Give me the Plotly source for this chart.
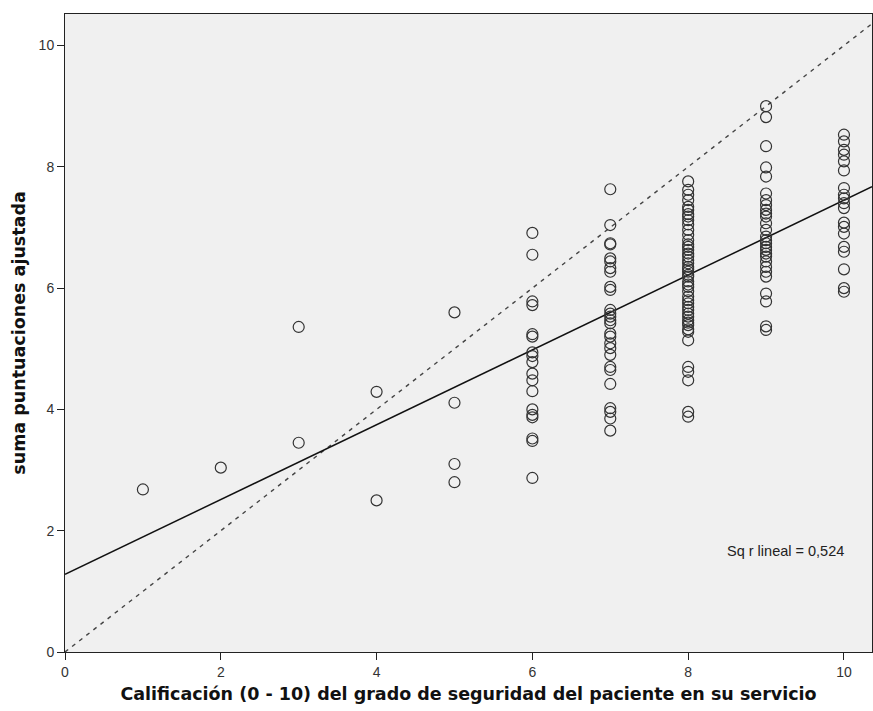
import plotly.graph_objects as go

# ---- data ----
score_1 = [2.68]
score_2 = [3.04]
score_3 = [5.36, 3.45]
score_4 = [4.29, 2.50]
score_5 = [5.60, 4.11, 3.10, 2.80]
score_6 = [6.91, 6.55, 5.78, 5.72, 5.24, 5.20, 4.94, 4.88, 4.78, 4.59, 4.48,
           4.30, 4.00, 3.91, 3.87, 3.52, 3.48, 2.87]
score_7 = [7.63, 7.04, 6.74, 6.72, 6.49, 6.44, 6.33, 6.27, 6.02, 5.97, 5.64,
           5.58, 5.53, 5.47, 5.42, 5.25, 5.20, 5.09, 5.01, 4.90, 4.70, 4.65,
           4.42, 4.02, 3.96, 3.85, 3.65]
score_8 = [7.76, 7.62, 7.54, 7.45, 7.34, 7.29, 7.22, 7.18, 7.12, 7.05, 6.96,
           6.88, 6.79, 6.72, 6.68, 6.63, 6.57, 6.52, 6.46, 6.41, 6.35, 6.31,
           6.27, 6.22, 6.19, 6.11, 6.06, 6.02, 5.95, 5.86, 5.80, 5.75, 5.69,
           5.64, 5.58, 5.53, 5.47, 5.43, 5.39, 5.32, 5.28, 5.14, 4.70, 4.62,
           4.48, 3.96, 3.88]
score_9 = [9.00, 8.82, 8.34, 7.99, 7.84, 7.56, 7.45, 7.37, 7.29, 7.23, 7.18,
           7.07, 6.96, 6.85, 6.79, 6.74, 6.68, 6.63, 6.57, 6.52, 6.44, 6.35,
           6.27, 6.19, 5.91, 5.78, 5.37, 5.31]
score_10 = [8.53, 8.42, 8.28, 8.20, 8.09, 7.94, 7.65, 7.54, 7.48, 7.40, 7.32,
            7.08, 7.01, 6.90, 6.68, 6.60, 6.31, 6.00, 5.94]

ratings = [1, 2, 3, 4, 5, 6, 7, 8, 9, 10]
columns = [score_1, score_2, score_3, score_4, score_5,
           score_6, score_7, score_8, score_9, score_10]

fit_intercept = 1.28
fit_slope = 0.617
r2_label = "Sq r lineal = 0,524"

x_range = [0, 10.36]
y_range = [0, 10.52]
x_ticks = [0, 2, 4, 6, 8, 10]
y_ticks = [0, 2, 4, 6, 8, 10]

xs, ys = [], []
for r, col in zip(ratings, columns):
    xs += [r] * len(col)
    ys += col

fig = go.Figure()

# reference line y = x (dashed)
fig.add_trace(go.Scatter(
    x=[x_range[0], x_range[1]], y=[x_range[0], x_range[1]],
    mode="lines", line=dict(color="#444444", width=1.4, dash="4px,5px"),
    showlegend=False, hoverinfo="skip"))

# fit line
fig.add_trace(go.Scatter(
    x=[x_range[0], x_range[1]],
    y=[fit_intercept + fit_slope * x_range[0], fit_intercept + fit_slope * x_range[1]],
    mode="lines", line=dict(color="#111111", width=1.5),
    showlegend=False, hoverinfo="skip"))

fig.add_trace(go.Scatter(
    x=xs, y=ys, mode="markers",
    marker=dict(symbol="circle-open", size=11, color="#333333",
                line=dict(width=1.2, color="#333333")),
    showlegend=False))

fig.add_annotation(x=10.02, y=1.66, xref="x", yref="y", text=r2_label,
                   showarrow=False, xanchor="right", yanchor="middle",
                   font=dict(family="Liberation Sans, Arial", size=14.5, color="#222222"))

axis_common = dict(showline=True, linecolor="#222222", linewidth=1, mirror=True,
                   showgrid=False, zeroline=False, ticks="outside", ticklen=7,
                   tickcolor="#222222", tickwidth=1,
                   tickfont=dict(family="Liberation Sans, Arial", size=14, color="#333333"))

fig.update_xaxes(range=x_range, tickvals=x_ticks, **axis_common,
                 title=dict(text="<b>Calificación (0 - 10) del grado de seguridad del paciente en su servicio</b>",
                            font=dict(family="DejaVu Sans", size=17.5, color="#111111"),
                            standoff=8))
fig.update_yaxes(range=y_range, tickvals=y_ticks, **axis_common,
                 title=dict(text="<b>suma puntuaciones ajustada</b>",
                            font=dict(family="DejaVu Sans", size=17.5, color="#111111"),
                            standoff=8))

fig.update_layout(width=873, height=711,
                  margin=dict(l=65, r=1, t=14, b=59),
                  plot_bgcolor="#f0f0f0", paper_bgcolor="white")

fig.write_html("out.html")
